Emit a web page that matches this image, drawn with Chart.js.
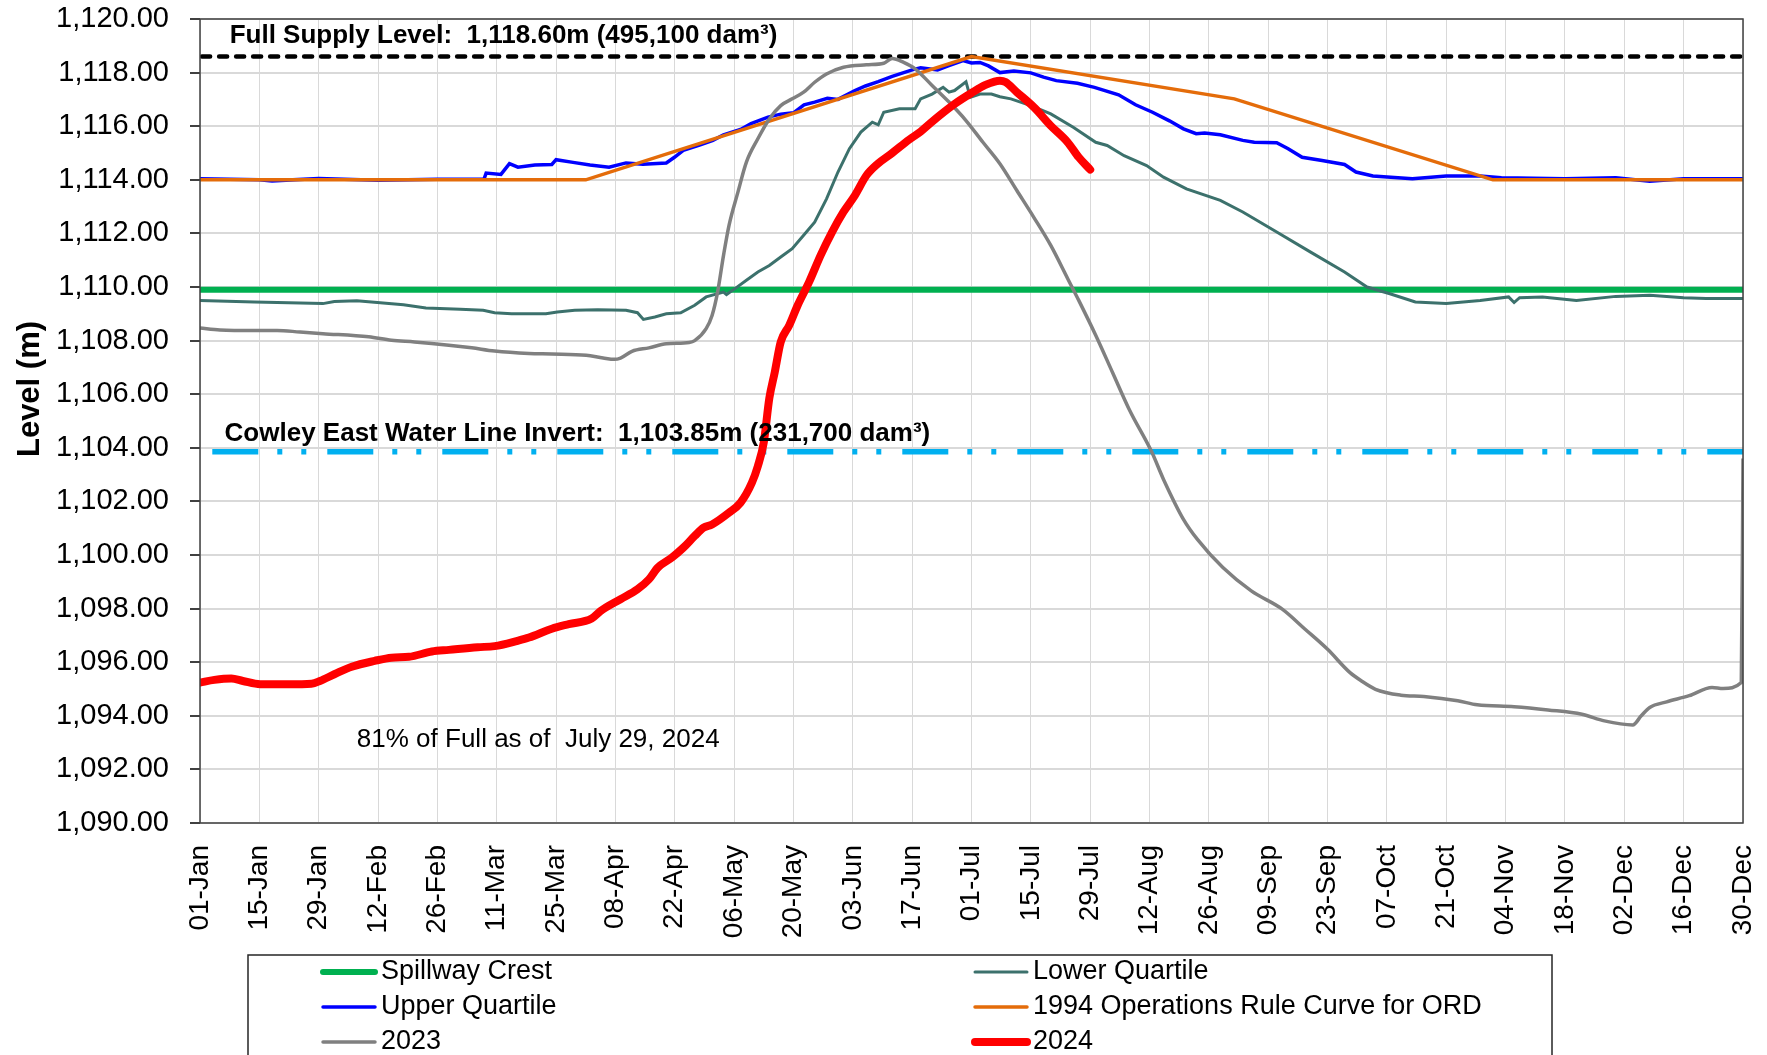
<!DOCTYPE html>
<html>
<head>
<meta charset="utf-8">
<style>
  html, body { margin: 0; padding: 0; background: #fff; }
  canvas { display: block; }
</style>
<script src="https://cdn.jsdelivr.net/npm/chart.js@4.4.1/dist/chart.umd.min.js"></script>
</head>
<body>
<canvas id="levelChart" width="1767" height="1055"></canvas>
<script>
  'use strict';

  // x is day-of-year (0 = 01-Jan), ticks every 14 days
  var tickLabels = ['01-Jan', '15-Jan', '29-Jan', '12-Feb', '26-Feb', '11-Mar', '25-Mar', '08-Apr', '22-Apr',
    '06-May', '20-May', '03-Jun', '17-Jun', '01-Jul', '15-Jul', '29-Jul', '12-Aug', '26-Aug', '09-Sep',
    '23-Sep', '07-Oct', '21-Oct', '04-Nov', '18-Nov', '02-Dec', '16-Dec', '30-Dec'];

  var fullSupplyLevel = 1118.6;
  var spillwayCrest = 1109.9;
  var cowleyInvert = 1103.85;

  var upperDays = [0, 14, 17, 28, 42, 56, 67, 67.5, 71, 73, 75, 79, 83, 84, 88, 92, 96.5, 100.5, 104.5, 110, 112,
    114, 118, 121, 123.5, 127.5, 130, 134, 137, 140, 142.5, 145, 148, 150.5, 154.5, 157, 160, 163.3, 168, 170,
    174, 176.5, 180, 182, 184, 186, 188.7, 192, 196, 199, 202, 207, 211, 216.7, 220.7, 224.7, 228.7, 232, 235,
    237, 240.7, 246, 248.7, 254, 256.7, 260, 264.7, 270, 272.7, 276.7, 286, 294, 302, 307, 322, 334, 342, 350, 364];
  var upperLevels = [1114.04, 1114.0, 1113.96, 1114.05, 1113.98, 1114.02, 1114.03, 1114.25, 1114.2, 1114.6,
    1114.47, 1114.55, 1114.57, 1114.75, 1114.65, 1114.55, 1114.47, 1114.63, 1114.58, 1114.63, 1114.85, 1115.1,
    1115.3, 1115.47, 1115.68, 1115.88, 1116.1, 1116.34, 1116.45, 1116.5, 1116.8, 1116.9, 1117.04, 1117.0,
    1117.33, 1117.5, 1117.66, 1117.86, 1118.1, 1118.18, 1118.1, 1118.25, 1118.45, 1118.36, 1118.38, 1118.25,
    1118.0, 1118.06, 1117.99, 1117.83, 1117.7, 1117.6, 1117.45, 1117.17, 1116.8, 1116.52, 1116.2, 1115.9,
    1115.72, 1115.75, 1115.68, 1115.47, 1115.4, 1115.38, 1115.16, 1114.84, 1114.72, 1114.57, 1114.29, 1114.14,
    1114.04, 1114.14, 1114.14, 1114.08, 1114.04, 1114.08, 1113.95, 1114.04, 1114.04];

  var lowerDays = [0, 12.8, 29, 31.7, 37, 42.5, 48, 53.3, 61.4, 66.8, 69.5, 73.5, 81.6, 84.3, 88.4, 93.8, 100.5,
    103.2, 104.6, 107.3, 110, 113.4, 116.7, 119.4, 123.5, 124.2, 126.2, 128.9, 131.6, 134.3, 137, 139.7, 142.4,
    145, 147.8, 150.5, 153.2, 155.9, 158.6, 160, 161.3, 165, 168.7, 170, 172.7, 175.3, 176.7, 178, 180.7, 181.7,
    184, 186.7, 188.7, 191.3, 196, 200.7, 206, 211.3, 214, 218, 223.3, 227.3, 232.7, 240.7, 246, 254, 262, 270,
    275.3, 280.7, 286.7, 294, 302, 308.7, 310, 311.3, 316.7, 324.7, 334, 342, 350, 355.3, 364];
  var lowerLevels = [1109.5, 1109.44, 1109.38, 1109.46, 1109.49, 1109.41, 1109.34, 1109.22, 1109.17, 1109.13,
    1109.04, 1109.0, 1109.0, 1109.07, 1109.13, 1109.15, 1109.13, 1109.04, 1108.79, 1108.88, 1109.0, 1109.04,
    1109.32, 1109.63, 1109.81, 1109.72, 1109.94, 1110.25, 1110.56, 1110.8, 1111.12, 1111.43, 1111.93, 1112.42,
    1113.29, 1114.29, 1115.16, 1115.78, 1116.15, 1116.05, 1116.52, 1116.65, 1116.65, 1117.02, 1117.2, 1117.45,
    1117.27, 1117.33, 1117.66, 1117.08, 1117.2, 1117.2, 1117.1, 1117.02, 1116.77, 1116.46, 1115.96, 1115.4,
    1115.28, 1114.9, 1114.53, 1114.1, 1113.66, 1113.23, 1112.8, 1112.05, 1111.3, 1110.56, 1110.0, 1109.75,
    1109.44, 1109.38, 1109.5, 1109.63, 1109.42, 1109.6, 1109.63, 1109.5, 1109.65, 1109.69, 1109.6, 1109.57, 1109.57];

  var ruleDays = [0, 91, 182, 244, 305, 364];
  var ruleLevels = [1114.0, 1114.0, 1118.6, 1117.02, 1114.0, 1114.0];

  var days2023 = [0, 4.7, 12.8, 18.2, 23.6, 29, 39.8, 45.2, 50.6, 58.7, 64.1, 69.5, 77.6, 83, 91.1, 95.1, 97.8,
    99.2, 101.9, 105.9, 110, 115.4, 116.7, 119.4, 120.8, 122.1, 123.5, 124.8, 126.9, 128.9, 131.6, 134.3, 137,
    139.7, 142.4, 145, 147.8, 151.8, 157.2, 161.3, 163.3, 166, 168.7, 172.7, 176.7, 180.7, 184.7, 188.7, 192.7,
    196.7, 200.7, 204.7, 207.3, 211.3, 215.3, 219.3, 224.5, 227.3, 232, 235.3, 241.3, 248, 255.3, 260.7, 266,
    271.3, 274, 277.3, 283.3, 288.7, 296.7, 301.3, 310, 318, 326, 331.3, 338, 340, 342, 346, 351.3, 356.7,
    359.3, 363.6, 364];
  var levels2023 = [1108.47, 1108.4, 1108.38, 1108.38, 1108.32, 1108.26, 1108.14, 1108.01, 1107.95, 1107.83,
    1107.73, 1107.61, 1107.52, 1107.5, 1107.45, 1107.35, 1107.3, 1107.35, 1107.6, 1107.73, 1107.88, 1107.93,
    1108.0, 1108.45, 1108.94, 1109.81, 1111.18, 1112.3, 1113.54, 1114.66, 1115.53, 1116.27, 1116.77, 1117.02,
    1117.27, 1117.64, 1117.95, 1118.2, 1118.29, 1118.35, 1118.53, 1118.38, 1118.14, 1117.52, 1116.9, 1116.21,
    1115.4, 1114.6, 1113.6, 1112.6, 1111.55, 1110.31, 1109.5, 1108.2, 1106.8, 1105.4, 1103.85, 1102.82,
    1101.33, 1100.58, 1099.53, 1098.66, 1097.98, 1097.23, 1096.48, 1095.61, 1095.3, 1094.99, 1094.77, 1094.72,
    1094.56, 1094.41, 1094.34, 1094.22, 1094.06, 1093.81, 1093.66, 1094.0, 1094.31, 1094.52, 1094.75, 1095.06,
    1095.02, 1095.24, 1103.6];

  var days2024 = [0, 3.4, 7.4, 10.1, 14.2, 20.9, 26.3, 28.3, 31.7, 35.8, 41.2, 45.2, 49.3, 54.7, 58.7, 65.5,
    69.5, 74.9, 77.6, 83, 87, 92.4, 94.5, 99.2, 103.2, 105.9, 108, 111.3, 114, 116.7, 118.8, 120.8, 124.8,
    127.5, 130.2, 131.6, 133, 134.3, 135.6, 137, 139, 141, 143.7, 146.4, 149.1, 151.8, 154.5, 157.2, 159.9,
    163.3, 167.3, 170, 174, 178, 182, 185.3, 188.7, 190, 192.7, 196.7, 200.7, 204.7, 207.3, 210];
  var levels2024 = [1095.24, 1095.34, 1095.39, 1095.3, 1095.18, 1095.18, 1095.2, 1095.3, 1095.55, 1095.83,
    1096.05, 1096.17, 1096.2, 1096.4, 1096.46, 1096.56, 1096.6, 1096.8, 1096.92, 1097.25, 1097.42, 1097.63,
    1097.91, 1098.35, 1098.72, 1099.09, 1099.53, 1099.9, 1100.27, 1100.71, 1101.02, 1101.14, 1101.58, 1101.95,
    1102.7, 1103.32, 1104.2, 1105.84, 1106.83, 1107.95, 1108.57, 1109.32, 1110.19, 1111.18, 1112.05, 1112.8,
    1113.42, 1114.16, 1114.6, 1115.0, 1115.5, 1115.8, 1116.34, 1116.83, 1117.24, 1117.54, 1117.7, 1117.65,
    1117.27, 1116.71, 1116.02, 1115.4, 1114.84, 1114.38];

  var legendOrder = ['Spillway Crest', 'Lower Quartile', 'Upper Quartile',
    '1994 Operations Rule Curve for ORD', '2023', '2024'];

  function pts(xs, ys) {
    return xs.map(function (x, i) { return { x: x, y: ys[i] }; });
  }

  function flat(x0, x1, v) {
    return [{ x: x0, y: v }, { x: x1, y: v }];
  }

  var sans = '"Liberation Sans", Arial, sans-serif';

  var overlay = {
    id: 'overlay',
    afterDraw: function (chart) {
      var ctx = chart.ctx;
      var a = chart.chartArea;
      var xs = chart.scales.x;
      var ys = chart.scales.y;
      ctx.save();

      ctx.strokeStyle = '#404040';
      ctx.lineWidth = 1.5;
      ctx.strokeRect(a.left, a.top, a.right - a.left, a.bottom - a.top);

      ctx.fillStyle = '#000';
      ctx.textBaseline = 'middle';
      ctx.textAlign = 'left';
      ctx.font = 'bold 26px ' + sans;
      ctx.fillText('Full Supply Level:  1,118.60m (495,100 dam\u00b3)', xs.getPixelForValue(7), ys.getPixelForValue(fullSupplyLevel) - 21);
      ctx.fillText('Cowley East Water Line Invert:  1,103.85m (231,700 dam\u00b3)', xs.getPixelForValue(5.8), ys.getPixelForValue(cowleyInvert) - 18);
      ctx.font = '26px ' + sans;
      ctx.fillText('81% of Full as of  July 29, 2024', xs.getPixelForValue(37), ys.getPixelForValue(1093.1));

      // y axis title
      ctx.save();
      ctx.translate(30, 389);
      ctx.rotate(-Math.PI / 2);
      ctx.textAlign = 'center';
      ctx.font = 'bold 31px ' + sans;
      ctx.fillText('Level (m)', 0, 0);
      ctx.restore();

      // legend box
      ctx.strokeStyle = '#262626';
      ctx.lineWidth = 1.5;
      ctx.strokeRect(248, 955, 1304, 140);
      var colX = [323, 975];
      var rowY = [972, 1007, 1042];
      ctx.font = '27px ' + sans;
      legendOrder.forEach(function (name, i) {
        var ds = chart.data.datasets.find(function (d) { return d.label === name; });
        var x = colX[i % 2];
        var y = rowY[Math.floor(i / 2)];
        ctx.strokeStyle = ds.borderColor;
        ctx.lineWidth = ds.borderWidth;
        ctx.lineCap = 'round';
        ctx.beginPath();
        ctx.moveTo(x, y);
        ctx.lineTo(x + 52, y);
        ctx.stroke();
        ctx.fillStyle = '#000';
        ctx.fillText(name, x + 58, y);
      });
      ctx.restore();
    }
  };

  var canvas = document.getElementById('levelChart');
  new Chart(canvas.getContext('2d'), {
    type: 'line',
    data: {
      datasets: [
        { label: '2024', data: pts(days2024, levels2024), borderColor: '#ff0000', borderWidth: 8, order: 0, cubicInterpolationMode: 'monotone', borderCapStyle: 'round', borderJoinStyle: 'round' },
        { label: '2023', data: pts(days2023, levels2023), borderColor: '#808080', borderWidth: 3.5, order: 1, cubicInterpolationMode: 'monotone' },
        { label: 'Lower Quartile', data: pts(lowerDays, lowerLevels), borderColor: '#3c716c', borderWidth: 3, order: 2 },
        { label: '1994 Operations Rule Curve for ORD', data: pts(ruleDays, ruleLevels), borderColor: '#e46c0a', borderWidth: 3.5, order: 3 },
        { label: 'Upper Quartile', data: pts(upperDays, upperLevels), borderColor: '#0000ff', borderWidth: 3.5, order: 4 },
        { label: 'Spillway Crest', data: flat(0, 364, spillwayCrest), borderColor: '#00b050', borderWidth: 6, order: 5 },
        { label: 'Cowley East Water Line Invert', data: flat(2.9, 364, cowleyInvert), borderColor: '#00b0f0', borderWidth: 5.5, borderDash: [46, 19, 5, 19, 5, 21], order: 6 },
        { label: 'Full Supply Level', data: flat(0.5, 364, fullSupplyLevel), borderColor: '#000000', borderWidth: 4.5, borderDash: [8, 9], borderCapStyle: 'round', order: 7 }
      ]
    },
    options: {
      responsive: false,
      animation: false,
      devicePixelRatio: 1,
      layout: { padding: { left: 0, top: 19, right: 24, bottom: 92 } },
      elements: { point: { radius: 0 }, line: { tension: 0, fill: false } },
      plugins: { legend: { display: false }, tooltip: { enabled: false } },
      scales: {
        x: {
          type: 'linear',
          min: 0,
          max: 364,
          border: { display: false },
          grid: { color: '#d9d9d9', lineWidth: 1, drawTicks: false },
          ticks: {
            stepSize: 14,
            autoSkip: false,
            maxRotation: 90,
            minRotation: 90,
            padding: 22,
            color: '#000',
            font: { family: sans, size: 28 },
            callback: function (v) { return tickLabels[Math.round(v / 14)]; }
          },
          afterFit: function (s) {
            s.height = 140;
            s.paddingLeft = 0;
            s.paddingRight = 0;
          }
        },
        y: {
          min: 1090,
          max: 1120,
          border: { display: false },
          grid: { color: '#d9d9d9', lineWidth: 2, tickLength: 10, tickColor: '#404040' },
          ticks: {
            stepSize: 2,
            padding: 21,
            color: '#000',
            font: { family: sans, size: 29 },
            callback: function (v) { return v.toLocaleString('en-US', { minimumFractionDigits: 2, maximumFractionDigits: 2 }); }
          },
          afterFit: function (s) {
            s.width = 200;
            s.paddingTop = 0;
            s.paddingBottom = 0;
          }
        }
      }
    },
    plugins: [overlay]
  });
</script>
</body>
</html>
